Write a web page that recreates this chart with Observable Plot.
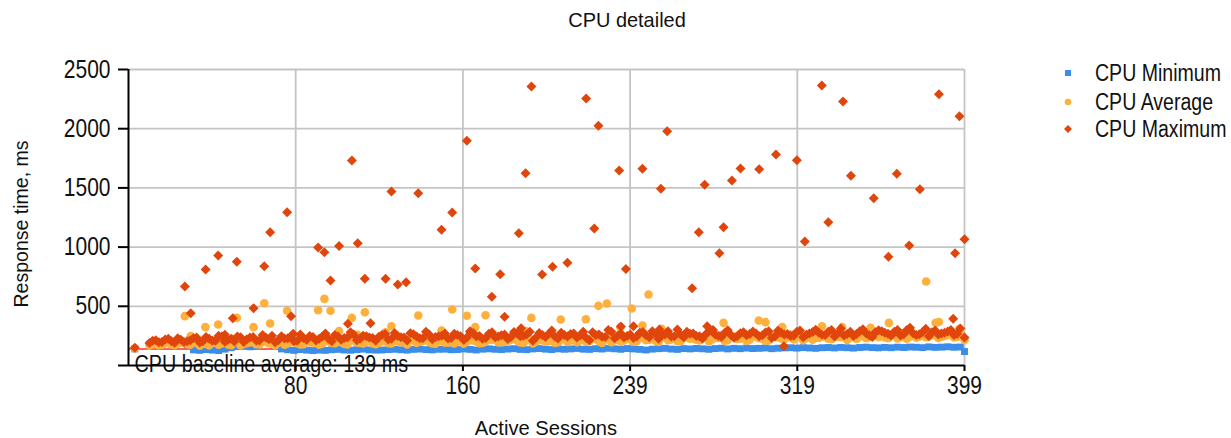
<!DOCTYPE html>
<html><head><meta charset="utf-8">
<script src="https://cdn.jsdelivr.net/npm/d3@7"></script>
<script src="https://cdn.jsdelivr.net/npm/@observablehq/plot@0.6"></script>
<style>
html,body{margin:0;padding:0;background:#fff;}
#wrap{position:relative;width:1231px;height:438px;overflow:hidden;font-family:"Liberation Sans",Arial,sans-serif;color:#111;background:#fff;}
#wrap > svg{position:absolute;left:0;top:0;}
.lbl{position:absolute;white-space:nowrap;line-height:1;}
.mk{position:absolute;}
</style></head>
<body><div id="wrap"></div>
<script>
// ---- data ----
const chartTitle = "CPU detailed";
const xLabel = "Active Sessions";
const yLabel = "Response time, ms";
const seriesNames = ["CPU Minimum", "CPU Average", "CPU Maximum"];
const seriesColors = ["#3a8de8", "#ffb03c", "#e0460c"];
const baselineAverage = 139;
const baselineText = "CPU baseline average: 139 ms";

const xDomain = [0, 399];
const xTickValues = [79.8, 159.6, 239.4, 319.2, 399];
const xTickLabels = ["80", "160", "239", "319", "399"];
const yDomain = [0, 2500];
const yTickValues = [0, 500, 1000, 1500, 2000, 2500];
const yTickLabels = ["", "500", "1000", "1500", "2000", "2500"];

// dense band, first sampling (every 3 sessions)
const bandSessions = [3,
  10,13,16,19,22,25,28,
  31,34,37,40,43,46,49,52,55,58,
  61,64,67,70,73,76,79,82,85,88,
  91,94,97,100,103,106,109,112,115,118,
  121,124,127,130,133,136,139,142,145,148,
  151,154,157,160,163,166,169,172,175,178,
  181,184,187,190,193,196,199,202,205,208,
  211,214,217,220,223,226,229,232,235,238,
  241,244,247,250,253,256,259,262,265,268,
  271,274,277,280,283,286,289,292,295,298,
  301,304,307,310,313,316,319,322,325,328,
  331,334,337,340,343,346,349,352,355,358,
  361,364,367,370,373,376,379,382,385,388,
  391,394,397,
  399];
const cpuMinimum = [140,
  180,185,178,190,182,188,176,
  132,128,135,130,126,138,150,162,170,158,
  165,230,200,160,140,133,128,135,130,126,
  130,128,133,136,131,129,134,138,132,130,
  131,135,137,133,130,136,139,134,132,137,
  138,133,135,140,136,131,138,141,137,134,
  139,142,136,134,140,143,138,135,141,137,
  140,144,138,136,142,139,145,141,137,143,
  140,136,131,138,142,145,139,136,143,140,
  144,141,137,143,146,140,145,142,147,143,
  145,148,142,146,149,150,147,151,148,145,
  150,152,148,153,150,147,152,155,151,149,
  153,150,155,152,156,154,151,157,153,155,
  158,154,156,
  118];
const cpuAverageBand = [145,
  170,188,176,195,172,190,182,
  198,168,186,210,176,192,172,205,184,196,
  180,202,188,170,212,186,196,178,208,190,
  176,215,190,200,182,222,194,186,210,180,
  204,188,225,196,178,212,200,230,186,206,
  192,218,200,184,228,202,190,220,236,198,
  208,230,194,216,186,240,204,222,196,232,
  212,196,238,206,224,190,245,214,200,228,
  206,232,214,250,198,236,220,206,248,226,
  218,240,204,232,258,214,244,226,208,252,
  230,210,256,236,222,262,240,214,248,232,
  244,226,266,238,216,258,246,230,270,240,
  236,262,228,272,244,234,260,248,276,242,
  258,236,268,
  215];
const cpuMaximumBand = [150,
  190,214,198,225,192,218,205,
  230,195,240,208,252,200,226,245,198,236,
  210,258,222,196,248,230,205,262,218,240,
  226,270,205,245,232,280,214,252,236,208,
  258,220,275,238,212,264,230,285,222,248,
  270,232,258,215,290,245,226,268,238,256,
  224,282,246,262,210,275,240,296,228,258,
  266,236,284,214,258,242,300,230,270,250,
  232,276,255,290,226,262,244,305,238,268,
  250,228,286,262,240,298,234,272,256,288,
  246,278,232,296,262,250,284,238,270,302,
  260,286,244,312,266,250,290,272,240,298,
  276,252,300,264,318,258,282,246,296,270,
  288,258,312,
  236];

// dense band, second sampling (in between the first)
const bandSessionsB = [
  11.5,14.5,17.5,20.5,23.5,26.5,
  29.5,32.5,35.5,38.5,41.5,44.5,47.5,50.5,53.5,56.5,
  59.5,62.5,65.5,68.5,71.5,74.5,77.5,80.5,83.5,86.5,
  89.5,92.5,95.5,98.5,101.5,104.5,107.5,110.5,113.5,116.5,
  119.5,122.5,125.5,128.5,131.5,134.5,137.5,140.5,143.5,146.5,
  149.5,152.5,155.5,158.5,161.5,164.5,167.5,170.5,173.5,176.5,
  179.5,182.5,185.5,188.5,191.5,194.5,197.5,200.5,203.5,206.5,
  209.5,212.5,215.5,218.5,221.5,224.5,227.5,230.5,233.5,236.5,
  239.5,242.5,245.5,248.5,251.5,254.5,257.5,260.5,263.5,266.5,
  269.5,272.5,275.5,278.5,281.5,284.5,287.5,290.5,293.5,296.5,
  299.5,302.5,305.5,308.5,311.5,314.5,317.5,320.5,323.5,326.5,
  329.5,332.5,335.5,338.5,341.5,344.5,347.5,350.5,353.5,356.5,
  359.5,362.5,365.5,368.5,371.5,374.5,377.5,380.5,383.5,386.5,
  389.5,392.5,395.5];
const cpuAverageBandB = [
  180,172,192,178,186,196,
  176,194,182,170,200,186,178,196,170,188,
  194,178,206,184,192,176,202,188,180,198,
  200,184,206,188,196,178,212,190,200,186,
  192,214,186,206,196,218,190,208,198,184,
  210,194,186,222,200,212,188,206,218,194,
  200,218,210,192,226,200,214,208,190,220,
  198,224,212,200,234,206,220,196,226,212,
  222,204,238,218,210,242,214,228,204,236,
  226,212,246,220,232,208,240,224,250,218,
  244,224,212,250,228,240,220,254,232,218,
  232,252,222,244,260,236,224,256,238,250,
  248,230,258,240,226,262,246,238,256,232,
  250,264,242];
const cpuMaximumBandB = [
  208,196,220,204,230,198,
  214,236,204,226,210,244,218,202,238,222,
  240,212,236,252,214,228,244,208,232,250,
  212,244,226,258,218,236,262,226,248,232,
  242,266,226,250,236,272,244,230,262,240,
  252,228,268,246,236,274,250,232,280,244,
  262,240,270,252,284,236,258,266,244,276,
  244,270,254,232,280,262,240,286,252,236,
  262,244,282,238,270,256,290,248,262,284,
  270,248,264,292,250,274,258,246,280,266,
  270,256,290,244,276,266,252,296,260,282,
  276,258,300,270,254,284,266,306,256,280,
  290,268,284,254,300,272,264,310,280,262,
  276,300,268];

// isolated points above the band
const avgPeakSessions = [26.9,29.7,36.7,42.8,49.8,51.7,59.7,64.8,67.6,75.7,90.5,93.5,96.4,100.5,106.6,109.4,112.8,122.7,125.5,138.3,149.4,154.5,161.5,165.5,170.4,187,189.5,192.3,206.3,218.3,224.3,228.3,234.8,240.2,245.3,248.2,254.4,284,300.8,304,312,331,340.6,354.2,362.9,380.7,385.2,386.8,396.6];
const avgPeakValues   = [417,248,324,346,225,402,324,526,355,462,467,563,462,290,402,259,450,281,332,422,296,473,420,324,425,296,290,402,389,391,504,524,324,481,338,600,310,360,380,366,324,332,324,318,360,709,360,368,310];
const maxPeakSessions = [26.9,29.7,36.8,42.8,46,49.8,51.7,59.7,64.8,67.6,75.7,77.6,78.6,90.5,93.5,96.4,100.5,104.7,106.6,109.4,112.8,115.5,122.7,125.5,128.5,132.5,138.3,149.4,154.5,161.5,163.2,165.5,173.4,177.4,179.5,186.3,187.4,189.5,192.3,197.4,202.4,209.5,218.4,222.3,224.3,234.2,235,237.4,241,245.3,253.4,254.1,257.1,269,272.2,275,276.2,279,282,284,288,292.1,301,309,312.8,319,322.8,330.9,334,341,344.8,355.7,362.7,366.7,372.6,377.7,386.8,393.6,394.5,396.6,399];
const maxPeakValues   = [667,442,811,929,259,400,876,484,839,1126,1295,416,268,997,957,718,1010,352,1731,1033,732,357,732,1470,684,704,1455,1146,1292,1898,281,819,580,771,411,1118,315,1624,2356,768,833,867,2255,1157,2024,1647,329,814,332,1661,304,1492,1979,653,1126,1526,332,300,949,1168,1562,1664,1658,1782,163,1734,1047,2365,1210,2230,1602,1413,918,1619,1014,1489,2292,394,949,2105,1067];

// ---- tables ----
const pairs = (xs, ys) => xs.map((s, i) => ({s, v: ys[i]}));
const minData = pairs(bandSessions, cpuMinimum);
const avgData = pairs(bandSessions, cpuAverageBand)
  .concat(pairs(bandSessionsB, cpuAverageBandB))
  .concat(pairs(avgPeakSessions, avgPeakValues));
const maxData = pairs(bandSessions, cpuMaximumBand)
  .concat(pairs(bandSessionsB, cpuMaximumBandB))
  .concat(pairs(maxPeakSessions, maxPeakValues));

const diamond = {
  draw(ctx, size) {
    const h = Math.sqrt(size / Math.PI);
    ctx.moveTo(0, -h); ctx.lineTo(h, 0); ctx.lineTo(0, h); ctx.lineTo(-h, 0); ctx.closePath();
  }
};

const FONT = '"Liberation Sans", Arial, sans-serif';
const chart = Plot.plot({
  width: 1231, height: 438,
  marginLeft: 128, marginRight: 267, marginTop: 69, marginBottom: 73,
  x: {domain: xDomain},
  y: {domain: yDomain},
  style: {fontFamily: FONT, fontSize: "25px", color: "#111", background: "transparent", overflow: "visible"},
  marks: [
    Plot.gridY(yTickValues.slice(1), {stroke: "#c4c4c4", strokeOpacity: 1, strokeWidth: 1.8}),
    Plot.gridX(xTickValues, {stroke: "#c4c4c4", strokeOpacity: 1, strokeWidth: 1.8}),
    Plot.ruleY([baselineAverage], {stroke: "#ff2a2a", strokeWidth: 1.6}),
    Plot.dot(minData, {x: "s", y: "v", symbol: "square", r: 3.9, fill: seriesColors[0]}),
    Plot.dot(avgData, {x: "s", y: "v", r: 4.3, fill: seriesColors[1]}),
    Plot.dot(maxData, {x: "s", y: "v", symbol: diamond, r: 5, fill: seriesColors[2]}),
    Plot.text([baselineText], {frameAnchor: "bottom-left", dx: 6, dy: -1, textAnchor: "start", lineAnchor: "middle", fontSize: 23, fill: "#111", className: "baseline-label"}),
    Plot.axisY({ticks: yTickValues, tickFormat: (d) => yTickLabels[yTickValues.indexOf(d)], tickSize: 10, tickPadding: 8, label: null, stroke: "#000", strokeWidth: 2, fontSize: 25, fill: "#111"}),
    Plot.axisX({ticks: xTickValues, tickFormat: (d) => xTickLabels[xTickValues.indexOf(d)], tickSize: 6, tickPadding: 5, label: null, stroke: "#000", strokeWidth: 2, fontSize: 25, fill: "#111"}),
    Plot.ruleX([xDomain[0]], {stroke: "#000", strokeWidth: 2}),
    Plot.ruleY([0], {stroke: "#000", strokeWidth: 2})
  ]
});

const wrap = document.getElementById("wrap");
wrap.appendChild(chart);

// condense text horizontally like the reference
function squeeze(nodes, sx) {
  nodes.forEach(t => {
    const tr = t.getAttribute("transform") || "";
    t.setAttribute("transform", (tr + ` scale(${sx},1)`).trim());
  });
}
squeeze(chart.querySelectorAll('g[aria-label="y-axis tick label"] text, g[aria-label="x-axis tick label"] text'), 0.84);
squeeze(chart.querySelectorAll('g.baseline-label text, .baseline-label text'), 0.86);

function addLabel(text, x, y, size, sx, opts = {}) {
  const d = document.createElement("div");
  d.className = "lbl";
  d.textContent = text;
  d.style.fontSize = size + "px";
  d.style.left = x + "px";
  d.style.top = y + "px";
  if (opts.align === "left") {
    d.style.transformOrigin = "0 50%";
    d.style.transform = `translate(0,-50%) scaleX(${sx})`;
  } else if (opts.rotate) {
    d.style.transform = `translate(-50%,-50%) rotate(-90deg) scaleX(${sx})`;
  } else {
    d.style.transform = `translate(-50%,-50%) scaleX(${sx})`;
  }
  wrap.appendChild(d);
}
addLabel(chartTitle, 627, 19, 21, 0.95);
addLabel(xLabel, 546, 427, 21, 0.96);
addLabel(yLabel, 20, 224, 21, 0.93, {rotate: true});

// legend
const legendY = [73, 102, 129];
const ns = "http://www.w3.org/2000/svg";
seriesNames.forEach((name, i) => {
  const s = document.createElementNS(ns, "svg");
  s.setAttribute("width", 14); s.setAttribute("height", 14);
  s.setAttribute("class", "mk");
  s.style.left = (1068 - 7) + "px";
  s.style.top = (legendY[i] - 7) + "px";
  let el;
  if (i === 0) {
    el = document.createElementNS(ns, "rect");
    el.setAttribute("x", 4); el.setAttribute("y", 4); el.setAttribute("width", 6); el.setAttribute("height", 6);
  } else if (i === 1) {
    el = document.createElementNS(ns, "circle");
    el.setAttribute("cx", 7); el.setAttribute("cy", 7); el.setAttribute("r", 3.3);
  } else {
    el = document.createElementNS(ns, "path");
    el.setAttribute("d", "M7,3 L11,7 L7,11 L3,7 Z");
  }
  el.setAttribute("fill", seriesColors[i]);
  s.appendChild(el);
  wrap.appendChild(s);
  addLabel(name, 1095, legendY[i], 23, 0.85, {align: "left"});
});
</script>
</body></html>
